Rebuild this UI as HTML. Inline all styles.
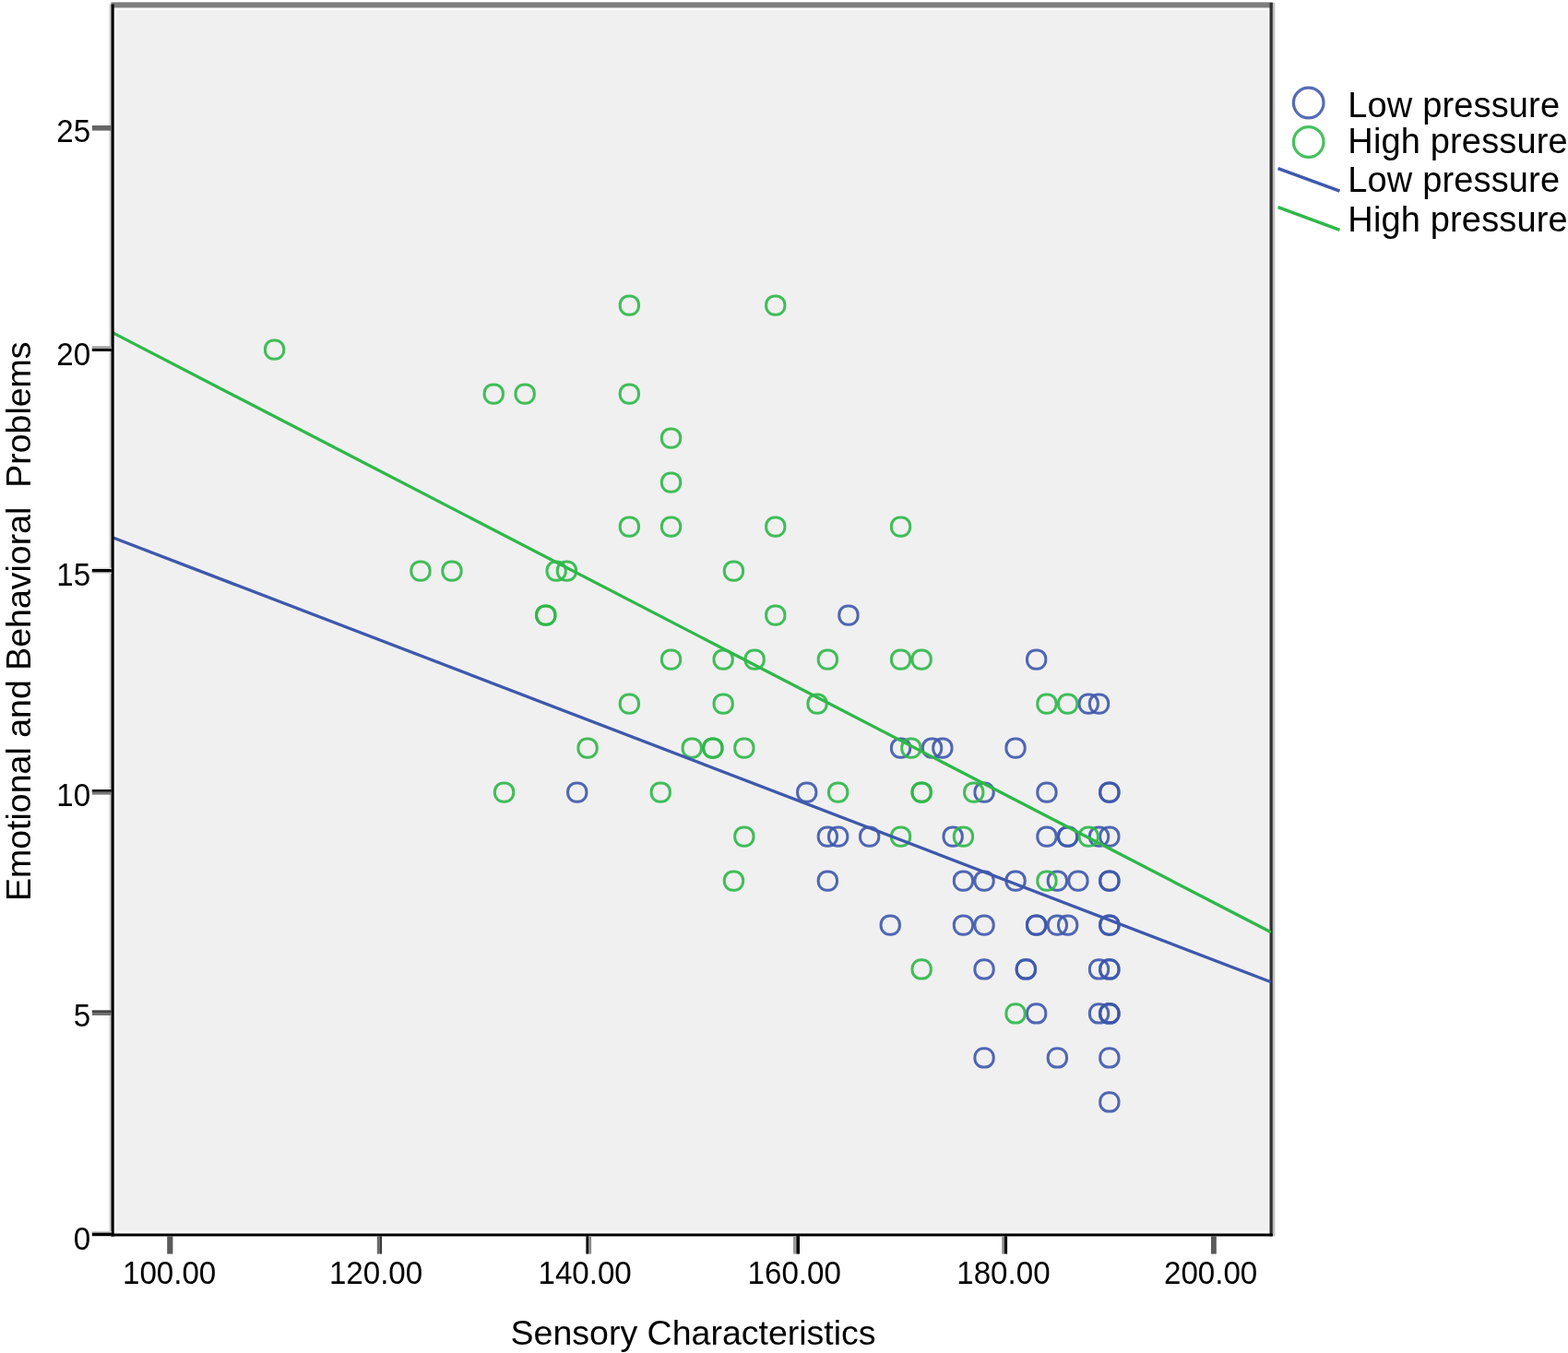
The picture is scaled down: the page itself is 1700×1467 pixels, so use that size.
<!DOCTYPE html>
<html lang="en"><head><meta charset="utf-8"><title>Sensory Characteristics vs Emotional and Behavioral Problems</title>
<style>
html,body{margin:0;padding:0;background:#fff;}
body{width:1700px;height:1467px;overflow:hidden;}
svg{display:block;}
text{font-family:"Liberation Sans",Arial,Helvetica,sans-serif;fill:#000;}
.tick{font-size:34.5px;}
.ttl{font-size:37.5px;}
.leg{font-size:38px;letter-spacing:0.15px;}
</style></head><body>
<svg width="1700" height="1467" viewBox="0 0 1700 1467">
<rect x="0" y="0" width="1700" height="1467" fill="#ffffff"/>
<rect x="122" y="5" width="1257" height="1334" fill="#f0f0f0"/>
<rect x="123.8" y="8.4" width="2.6" height="1329" fill="#f9f9f9"/>
<rect x="123.8" y="8.4" width="1252.8" height="2.7" fill="#fafafa"/>
<rect x="123.8" y="1334.6" width="1252.8" height="2.8" fill="#f8f8f8"/>
<rect x="1374.4" y="8.4" width="2.2" height="1329" fill="#f9f9f9"/>
<rect x="120.4" y="2.4" width="1259.4" height="6" fill="#7e7e7e"/>
<rect x="1379.8" y="3" width="2.5" height="1337.4" fill="#c0c0c0"/>
<rect x="1376.5" y="3" width="3.3" height="1337.4" fill="#303030"/>
<rect x="118.3" y="4" width="2.3" height="1334" fill="#d6d6d6"/>
<defs><clipPath id="pa"><rect x="122" y="8" width="1256" height="1330"/></clipPath>
<filter id="soft" x="0" y="0" width="1700" height="1467" filterUnits="userSpaceOnUse"><feGaussianBlur stdDeviation="0.75"/></filter></defs>
<g fill="none" stroke-width="3.00" stroke-opacity="0.9" filter="url(#soft)">
<g stroke="#3e58ac">
<rect x="909.8" y="656.9" width="20.3" height="20.3" rx="9.4"/>
<rect x="1113.5" y="704.9" width="20.3" height="20.3" rx="9.4"/>
<rect x="1170.1" y="752.9" width="20.3" height="20.3" rx="9.4"/>
<rect x="1181.4" y="752.9" width="20.3" height="20.3" rx="9.4"/>
<rect x="966.4" y="800.9" width="20.3" height="20.3" rx="9.4"/>
<rect x="1000.4" y="800.9" width="20.3" height="20.3" rx="9.4"/>
<rect x="1011.7" y="800.9" width="20.3" height="20.3" rx="9.4"/>
<rect x="1090.9" y="800.9" width="20.3" height="20.3" rx="9.4"/>
<rect x="615.6" y="848.9" width="20.3" height="20.3" rx="9.4"/>
<rect x="864.6" y="848.9" width="20.3" height="20.3" rx="9.4"/>
<rect x="1056.9" y="848.9" width="20.3" height="20.3" rx="9.4"/>
<rect x="1124.8" y="848.9" width="20.3" height="20.3" rx="9.4"/>
<rect x="1192.7" y="848.9" width="20.3" height="20.3" rx="9.4"/>
<rect x="1192.7" y="848.9" width="20.3" height="20.3" rx="9.4"/>
<rect x="887.2" y="896.9" width="20.3" height="20.3" rx="9.4"/>
<rect x="898.5" y="896.9" width="20.3" height="20.3" rx="9.4"/>
<rect x="932.5" y="896.9" width="20.3" height="20.3" rx="9.4"/>
<rect x="1023.0" y="896.9" width="20.3" height="20.3" rx="9.4"/>
<rect x="1124.8" y="896.9" width="20.3" height="20.3" rx="9.4"/>
<rect x="1147.5" y="896.9" width="20.3" height="20.3" rx="9.4"/>
<rect x="1147.5" y="896.9" width="20.3" height="20.3" rx="9.4"/>
<rect x="1181.4" y="896.9" width="20.3" height="20.3" rx="9.4"/>
<rect x="1192.7" y="896.9" width="20.3" height="20.3" rx="9.4"/>
<rect x="887.2" y="944.9" width="20.3" height="20.3" rx="9.4"/>
<rect x="1034.3" y="944.9" width="20.3" height="20.3" rx="9.4"/>
<rect x="1056.9" y="944.9" width="20.3" height="20.3" rx="9.4"/>
<rect x="1090.9" y="944.9" width="20.3" height="20.3" rx="9.4"/>
<rect x="1136.2" y="944.9" width="20.3" height="20.3" rx="9.4"/>
<rect x="1158.8" y="944.9" width="20.3" height="20.3" rx="9.4"/>
<rect x="1192.7" y="944.9" width="20.3" height="20.3" rx="9.4"/>
<rect x="1192.7" y="944.9" width="20.3" height="20.3" rx="9.4"/>
<rect x="955.1" y="992.9" width="20.3" height="20.3" rx="9.4"/>
<rect x="1034.3" y="992.9" width="20.3" height="20.3" rx="9.4"/>
<rect x="1056.9" y="992.9" width="20.3" height="20.3" rx="9.4"/>
<rect x="1113.5" y="992.9" width="20.3" height="20.3" rx="9.4"/>
<rect x="1113.5" y="992.9" width="20.3" height="20.3" rx="9.4"/>
<rect x="1136.2" y="992.9" width="20.3" height="20.3" rx="9.4"/>
<rect x="1147.5" y="992.9" width="20.3" height="20.3" rx="9.4"/>
<rect x="1192.7" y="992.9" width="20.3" height="20.3" rx="9.4"/>
<rect x="1192.7" y="992.9" width="20.3" height="20.3" rx="9.4"/>
<rect x="1056.9" y="1040.8" width="20.3" height="20.3" rx="9.4"/>
<rect x="1102.2" y="1040.8" width="20.3" height="20.3" rx="9.4"/>
<rect x="1102.2" y="1040.8" width="20.3" height="20.3" rx="9.4"/>
<rect x="1181.4" y="1040.8" width="20.3" height="20.3" rx="9.4"/>
<rect x="1192.7" y="1040.8" width="20.3" height="20.3" rx="9.4"/>
<rect x="1192.7" y="1040.8" width="20.3" height="20.3" rx="9.4"/>
<rect x="1113.5" y="1088.8" width="20.3" height="20.3" rx="9.4"/>
<rect x="1181.4" y="1088.8" width="20.3" height="20.3" rx="9.4"/>
<rect x="1192.7" y="1088.8" width="20.3" height="20.3" rx="9.4"/>
<rect x="1192.7" y="1088.8" width="20.3" height="20.3" rx="9.4"/>
<rect x="1192.7" y="1088.8" width="20.3" height="20.3" rx="9.4"/>
<rect x="1056.9" y="1136.8" width="20.3" height="20.3" rx="9.4"/>
<rect x="1136.2" y="1136.8" width="20.3" height="20.3" rx="9.4"/>
<rect x="1192.7" y="1136.8" width="20.3" height="20.3" rx="9.4"/>
<rect x="1192.7" y="1184.8" width="20.3" height="20.3" rx="9.4"/>
</g>
<g stroke="#2eb848">
<rect x="287.4" y="368.9" width="20.3" height="20.3" rx="9.4"/>
<rect x="672.2" y="320.9" width="20.3" height="20.3" rx="9.4"/>
<rect x="830.6" y="320.9" width="20.3" height="20.3" rx="9.4"/>
<rect x="525.1" y="416.9" width="20.3" height="20.3" rx="9.4"/>
<rect x="559.0" y="416.9" width="20.3" height="20.3" rx="9.4"/>
<rect x="672.2" y="416.9" width="20.3" height="20.3" rx="9.4"/>
<rect x="717.4" y="464.9" width="20.3" height="20.3" rx="9.4"/>
<rect x="717.4" y="512.9" width="20.3" height="20.3" rx="9.4"/>
<rect x="672.2" y="560.9" width="20.3" height="20.3" rx="9.4"/>
<rect x="717.4" y="560.9" width="20.3" height="20.3" rx="9.4"/>
<rect x="830.6" y="560.9" width="20.3" height="20.3" rx="9.4"/>
<rect x="966.4" y="560.9" width="20.3" height="20.3" rx="9.4"/>
<rect x="445.8" y="608.9" width="20.3" height="20.3" rx="9.4"/>
<rect x="479.8" y="608.9" width="20.3" height="20.3" rx="9.4"/>
<rect x="593.0" y="608.9" width="20.3" height="20.3" rx="9.4"/>
<rect x="604.3" y="608.9" width="20.3" height="20.3" rx="9.4"/>
<rect x="785.3" y="608.9" width="20.3" height="20.3" rx="9.4"/>
<rect x="581.6" y="656.9" width="20.3" height="20.3" rx="9.4"/>
<rect x="581.6" y="656.9" width="20.3" height="20.3" rx="9.4"/>
<rect x="830.6" y="656.9" width="20.3" height="20.3" rx="9.4"/>
<rect x="717.4" y="704.9" width="20.3" height="20.3" rx="9.4"/>
<rect x="774.0" y="704.9" width="20.3" height="20.3" rx="9.4"/>
<rect x="808.0" y="704.9" width="20.3" height="20.3" rx="9.4"/>
<rect x="887.2" y="704.9" width="20.3" height="20.3" rx="9.4"/>
<rect x="966.4" y="704.9" width="20.3" height="20.3" rx="9.4"/>
<rect x="989.0" y="704.9" width="20.3" height="20.3" rx="9.4"/>
<rect x="672.2" y="752.9" width="20.3" height="20.3" rx="9.4"/>
<rect x="774.0" y="752.9" width="20.3" height="20.3" rx="9.4"/>
<rect x="875.9" y="752.9" width="20.3" height="20.3" rx="9.4"/>
<rect x="1124.8" y="752.9" width="20.3" height="20.3" rx="9.4"/>
<rect x="1147.5" y="752.9" width="20.3" height="20.3" rx="9.4"/>
<rect x="626.9" y="800.9" width="20.3" height="20.3" rx="9.4"/>
<rect x="740.1" y="800.9" width="20.3" height="20.3" rx="9.4"/>
<rect x="762.7" y="800.9" width="20.3" height="20.3" rx="9.4"/>
<rect x="762.7" y="800.9" width="20.3" height="20.3" rx="9.4"/>
<rect x="796.7" y="800.9" width="20.3" height="20.3" rx="9.4"/>
<rect x="977.7" y="800.9" width="20.3" height="20.3" rx="9.4"/>
<rect x="536.4" y="848.9" width="20.3" height="20.3" rx="9.4"/>
<rect x="706.1" y="848.9" width="20.3" height="20.3" rx="9.4"/>
<rect x="898.5" y="848.9" width="20.3" height="20.3" rx="9.4"/>
<rect x="989.0" y="848.9" width="20.3" height="20.3" rx="9.4"/>
<rect x="989.0" y="848.9" width="20.3" height="20.3" rx="9.4"/>
<rect x="1045.6" y="848.9" width="20.3" height="20.3" rx="9.4"/>
<rect x="796.7" y="896.9" width="20.3" height="20.3" rx="9.4"/>
<rect x="966.4" y="896.9" width="20.3" height="20.3" rx="9.4"/>
<rect x="1034.3" y="896.9" width="20.3" height="20.3" rx="9.4"/>
<rect x="1170.1" y="896.9" width="20.3" height="20.3" rx="9.4"/>
<rect x="785.3" y="944.9" width="20.3" height="20.3" rx="9.4"/>
<rect x="1124.8" y="944.9" width="20.3" height="20.3" rx="9.4"/>
<rect x="989.0" y="1040.8" width="20.3" height="20.3" rx="9.4"/>
<rect x="1090.9" y="1088.8" width="20.3" height="20.3" rx="9.4"/>
</g>
</g>
<g clip-path="url(#pa)"><g stroke-width="3.3" fill="none" filter="url(#soft)">
<line x1="122" y1="582.8" x2="1378" y2="1064.8" stroke="#3e58ac"/>
<line x1="122" y1="360.6" x2="1378" y2="1010.8" stroke="#2eb848"/>
</g></g>
<rect x="120.5" y="4.6" width="3.2" height="1336" fill="#000"/>
<rect x="120.5" y="1337.5" width="1259.3" height="2.95" fill="#000"/>
<rect x="99.8" y="136.0" width="21" height="5.6" fill="#666666"/>
<text class="tick" transform="translate(98.1 154.2) scale(0.96 1)" text-anchor="end">25</text>
<rect x="99.8" y="375.3" width="21" height="2.8" fill="#a0a0a0"/>
<rect x="99.8" y="378.1" width="21" height="2.8" fill="#000000"/>
<text class="tick" transform="translate(98.1 395.8) scale(0.96 1)" text-anchor="end">20</text>
<rect x="99.8" y="615.6" width="21" height="1.4" fill="#dcdcdc"/>
<rect x="99.8" y="617.0" width="21" height="3.6" fill="#000000"/>
<rect x="99.8" y="620.6" width="21" height="1.4" fill="#dcdcdc"/>
<text class="tick" transform="translate(98.1 635.0) scale(0.96 1)" text-anchor="end">15</text>
<rect x="99.8" y="856.0" width="21" height="2.8" fill="#111111"/>
<rect x="99.8" y="858.8" width="21" height="2.8" fill="#777777"/>
<text class="tick" transform="translate(98.1 874.4) scale(0.96 1)" text-anchor="end">10</text>
<rect x="99.8" y="1095.3" width="21" height="2.8" fill="#444444"/>
<rect x="99.8" y="1098.1" width="21" height="2.8" fill="#6a6a6a"/>
<text class="tick" transform="translate(98.1 1113.3) scale(0.96 1)" text-anchor="end">5</text>
<rect x="99.8" y="1334.8" width="21" height="1.8" fill="#d0d0d0"/>
<rect x="99.8" y="1336.6" width="21" height="3.6" fill="#000000"/>
<text class="tick" transform="translate(98.1 1354.9) scale(0.96 1)" text-anchor="end">0</text>
<rect x="181.2" y="1340.2" width="6.2" height="19.4" fill="#595959"/>
<text class="tick" transform="translate(133.0 1391.8) scale(0.96 1)">100.00</text>
<rect x="408.8" y="1340.2" width="2.6" height="19.4" fill="#6a6a6a"/>
<rect x="411.4" y="1340.2" width="2.7" height="19.4" fill="#3a3a3a"/>
<text class="tick" transform="translate(356.9 1391.8) scale(0.96 1)">120.00</text>
<rect x="635.4" y="1340.2" width="3.0" height="19.4" fill="#000000"/>
<rect x="638.4" y="1340.2" width="2.7" height="19.4" fill="#8a8a8a"/>
<text class="tick" transform="translate(583.5 1391.8) scale(0.96 1)">140.00</text>
<rect x="860.0" y="1340.2" width="3.4" height="19.4" fill="#9a9a9a"/>
<rect x="863.4" y="1340.2" width="3.6" height="19.4" fill="#000000"/>
<text class="tick" transform="translate(810.6 1391.8) scale(0.96 1)">160.00</text>
<rect x="1086.3" y="1340.2" width="2.7" height="19.4" fill="#8a8a8a"/>
<rect x="1089.0" y="1340.2" width="3.1" height="19.4" fill="#111111"/>
<text class="tick" transform="translate(1037.3 1391.8) scale(0.96 1)">180.00</text>
<rect x="1313.0" y="1340.2" width="5.8" height="19.4" fill="#595959"/>
<text class="tick" transform="translate(1262.0 1391.8) scale(0.96 1)">200.00</text>
<text class="ttl" x="751.6" y="1457.8" text-anchor="middle">Sensory Characteristics</text>
<text class="ttl" transform="translate(32.6 673.7) rotate(-90)" text-anchor="middle" xml:space="preserve" style="white-space:pre">Emotional and Behavioral  Problems</text>
<circle cx="1418.7" cy="111.5" r="16.3" fill="none" stroke="#3e58ac" stroke-width="3.2" stroke-opacity="0.88"/>
<circle cx="1418.7" cy="154" r="16.3" fill="none" stroke="#2eb848" stroke-width="3.2" stroke-opacity="0.88"/>
<line x1="1385.6" y1="182.6" x2="1452.5" y2="207.1" stroke="#3e58ac" stroke-width="3.6"/>
<line x1="1385.6" y1="224.6" x2="1452.5" y2="249.4" stroke="#2eb848" stroke-width="3.6"/>
<text class="leg" x="1461.3" y="127.0">Low pressure</text>
<text class="leg" x="1461.3" y="165.8">High pressure</text>
<text class="leg" x="1461.3" y="208.2">Low pressure</text>
<text class="leg" x="1461.3" y="250.9">High pressure</text>
</svg>
</body></html>
